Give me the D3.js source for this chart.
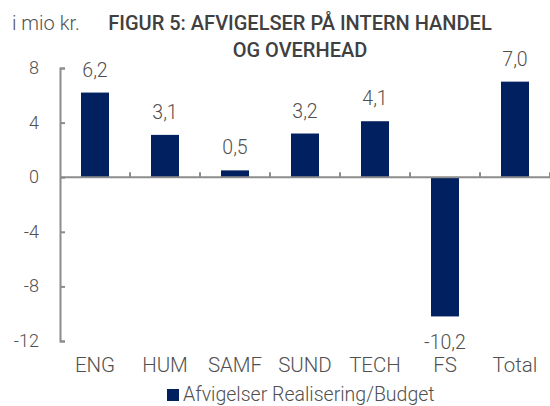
<!DOCTYPE html>
<html>
<head>
<meta charset="utf-8">
<script src="https://cdn.jsdelivr.net/npm/d3@7"></script>
<style>
  body { margin: 0; background: #fff; }
  svg text { font-family: "Roboto", sans-serif; font-weight: 300; }
</style>
</head>
<body>
<div id="chart"></div>
<script>
// data
const categories = ['ENG', 'HUM', 'SAMF', 'SUND', 'TECH', 'FS', 'Total'];
const values = [6.2, 3.1, 0.5, 3.2, 4.1, -10.2, 7.0];
const yTicks = [-12, -8, -4, 0, 4, 8];
const titleLines = ['FIGUR 5: AFVIGELSER PÅ INTERN HANDEL', 'OG OVERHEAD'];
const unitLabel = 'i mio kr.';
const legendLabel = 'Afvigelser Realisering/Budget';

const W = 550, H = 406;
const margin = { top: 68, right: 0, bottom: 67, left: 60 };
const width = W - margin.left - margin.right,
    height = H - margin.top - margin.bottom;

const barColor = '#002060';
const axisColor = '#8c8c8c';
const textColor = '#505050';

const svg = d3.select('#chart').append('svg')
    .attr('width', W)
    .attr('height', H);

const g = svg.append('g')
    .attr('transform', 'translate(' + margin.left + ',' + margin.top + ')');

const x = d3.scaleBand().domain(categories).range([0, width]).paddingInner(0.6).paddingOuter(0.3);
const xc = d3.scaleBand().domain(categories).range([0, width]);
const y = d3.scaleLinear().domain([-12, 8]).range([height + 2, 0]);

const fmt = v => d3.format('.1f')(v).replace('.', ',').replace('−', '-');

// y axis
const yAxis = g.append('g')
    .call(d3.axisRight(y).tickValues(yTicks).tickSize(5).tickFormat(''));
yAxis.select('.domain').attr('stroke', axisColor).attr('stroke-width', 2);
yAxis.selectAll('.tick line').attr('stroke', axisColor).attr('stroke-width', 2);

g.selectAll('.ylab')
    .data(yTicks)
    .enter().append('text')
    .attr('x', -21)
    .attr('y', d => y(d) + 6)
    .attr('text-anchor', 'end')
    .attr('font-size', 18)
    .attr('fill', textColor)
    .text(d => d);

// bars
g.selectAll('.bar')
    .data(values)
    .enter().append('rect')
    .attr('x', (d, i) => x(categories[i]))
    .attr('width', x.bandwidth())
    .attr('y', d => y(Math.max(0, d)))
    .attr('height', d => Math.abs(y(d) - y(0)))
    .attr('fill', barColor);

// zero axis with category ticks
g.append('line')
    .attr('x1', 0).attr('x2', width)
    .attr('y1', y(0)).attr('y2', y(0))
    .attr('stroke', axisColor).attr('stroke-width', 2);

g.selectAll('.ctick')
    .data(categories)
    .enter().append('line')
    .attr('x1', d => xc(d) + xc.bandwidth())
    .attr('x2', d => xc(d) + xc.bandwidth())
    .attr('y1', y(0)).attr('y2', y(0) - 5)
    .attr('stroke', axisColor).attr('stroke-width', 2);

// value labels
g.selectAll('.vlab')
    .data(values)
    .enter().append('text')
    .attr('x', (d, i) => xc(categories[i]) + xc.bandwidth() / 2)
    .attr('y', d => d >= 0 ? y(d) - 16 : y(d) + 33)
    .attr('text-anchor', 'middle')
    .attr('font-size', 19.5)
    .attr('fill', textColor)
    .text(d => fmt(d));

// category labels
g.selectAll('.clab')
    .data(categories)
    .enter().append('text')
    .attr('x', d => xc(d) + xc.bandwidth() / 2)
    .attr('y', 304)
    .attr('text-anchor', 'middle')
    .attr('font-size', 20.5)
    .attr('fill', textColor)
    .text(d => d);

// title
svg.selectAll('.title')
    .data(titleLines)
    .enter().append('text')
    .attr('x', 300)
    .attr('y', (d, i) => 30 + i * 27)
    .attr('text-anchor', 'middle')
    .attr('font-size', 20)
    .style('font-weight', 500)
    .attr('fill', '#404040')
    .text(d => d);

svg.append('text')
    .attr('x', 12)
    .attr('y', 30)
    .attr('font-size', 20)
    .attr('fill', textColor)
    .text(unitLabel);

// legend
svg.append('rect')
    .attr('x', 167).attr('y', 389)
    .attr('width', 12).attr('height', 12)
    .attr('fill', barColor);
svg.append('text')
    .attr('x', 183)
    .attr('y', 401)
    .attr('font-size', 19.5)
    .attr('fill', textColor)
    .text(legendLabel);
</script>
</body>
</html>
